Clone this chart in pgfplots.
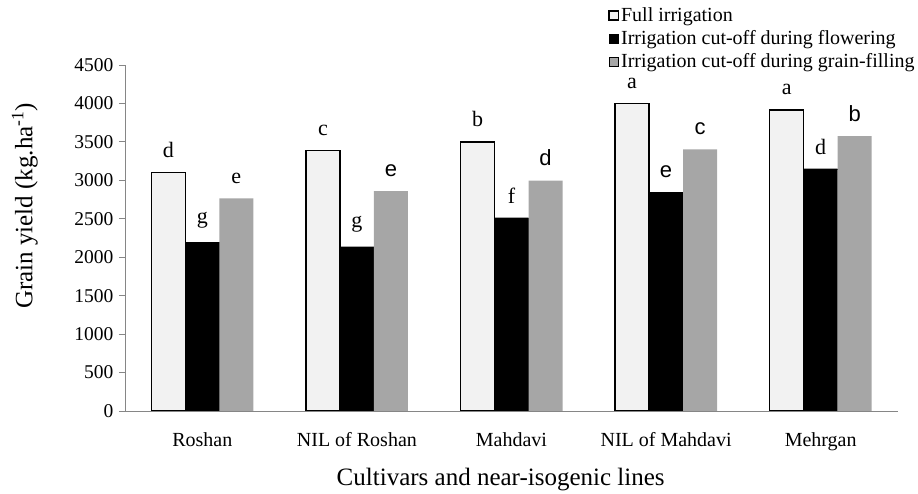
\documentclass[border=0pt]{standalone}
\usepackage{fontspec}
\setmainfont{Liberation Serif}
\newfontfamily\sansL{Liberation Sans}
\usepackage{pgfplots}
\pgfplotsset{compat=1.18}
\definecolor{fullc}{HTML}{F2F2F2}
\definecolor{grainc}{HTML}{A6A6A6}
\definecolor{axc}{HTML}{868686}
\newcommand\sL[1]{{\sansL #1}}
\begin{document}
\begin{tikzpicture}
\begin{axis}[
  scale only axis,
  width=773bp, height=346bp,
  xmin=-0.5, xmax=4.5,
  ymin=0, ymax=4500,
  ytick={0,500,...,4500},
  xtick={0,1,2,3,4},
  xticklabels={Roshan,NIL of Roshan,Mahdavi,NIL of Mahdavi,Mehrgan},
  extra x ticks={-0.5,0.5,1.5,2.5,3.5,4.5},
  extra x tick labels={},
  extra x tick style={major tick length=6bp, tick style={axc, line width=0.8bp}},
  x tick style={draw=none},
  y tick style={axc, line width=0.8bp},
  major tick length=6bp,
  tick align=outside,
  axis x line*=bottom, axis y line*=left,
  axis line style={axc, line width=0.8bp, -},
  /pgf/number format/assume math mode=true,
  /pgf/number format/1000 sep={},
  yticklabel style={font=\fontsize{19.5bp}{22bp}\selectfont, xshift=-2bp},
  xticklabel style={font=\fontsize{20bp}{23bp}\selectfont, yshift=-12bp},
  xlabel={Cultivars and near-isogenic lines},
  ylabel={Grain yield (kg.ha\textsuperscript{-1})},
  label style={font=\fontsize{25bp}{28bp}\selectfont},
  xlabel style={at={(axis description cs:0.486,-0.197)}, anchor=center},
  ylabel style={at={(axis description cs:-0.1295,0.593)}, anchor=center},
  ybar=0pt, bar width=34bp,
  nodes near coords,
  point meta=explicit symbolic,
  every node near coord/.append style={font=\fontsize{22bp}{25bp}\selectfont, anchor=south, yshift=11bp, text=black},
  legend style={draw=none, fill=none, at={(0.625,1.172)}, anchor=north west,
    font=\fontsize{20bp}{23bp}\selectfont, row sep=3.5bp, inner sep=0pt,
    /tikz/every even column/.append style={column sep=0pt}},
  legend cell align=left,
  legend image code/.code={\draw[#1] (0bp,-4.5bp) rectangle (9.5bp,4.5bp);},
]
\addplot[fill=fullc, draw=black, line width=1.3bp] coordinates {
 (0,3100) [d] (1,3385) [c] (2,3498) [b] (3,4001) [a] (4,3914) [a]};
\addplot[fill=black, draw=black, line width=0.3bp] coordinates {
 (0,2190) [g] (1,2137) [g] (2,2514) [f] (3,2840) [\sL{e}] (4,3151) [d]};
\addplot[fill=grainc, draw=none] coordinates {
 (0,2766) [e] (1,2861) [\sL{e}] (2,2995) [\sL{d}] (3,3402) [\sL{c}] (4,3576) [\sL{b}]};
\legend{Full irrigation, Irrigation cut-off during flowering, Irrigation cut-off during grain-filling}
\end{axis}
\useasboundingbox (-125bp,-82bp) rectangle (793bp,411bp);
\end{tikzpicture}
\end{document}
